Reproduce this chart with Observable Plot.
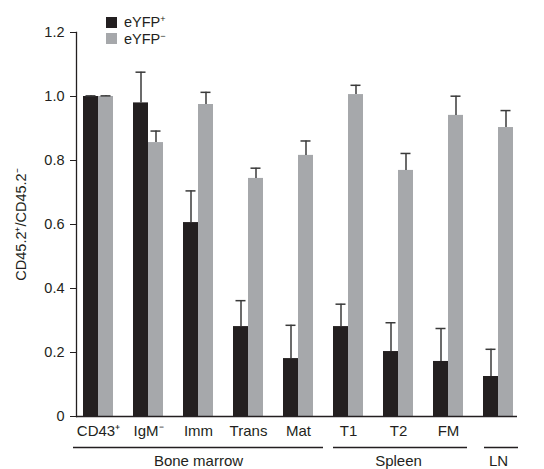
<!DOCTYPE html>
<html><head><meta charset="utf-8">
<script src="https://cdn.jsdelivr.net/npm/d3@7"></script>
<script src="https://cdn.jsdelivr.net/npm/@observablehq/plot@0.6"></script>
<style>
body{margin:0;background:#fff;font-family:"Liberation Sans",Arial,sans-serif}
#wrap{position:relative;width:544px;height:469px}
#legend{position:absolute;left:106px;top:14px;font-size:14.5px;color:#231f20;line-height:16.5px}
.item{display:flex;align-items:center;height:16.5px}
.sw{width:11px;height:11px;margin-right:7px}
sup{font-size:9px;vertical-align:5px;line-height:0}
</style></head><body><div id="wrap"><div id="legend"></div></div>
<script>
const categories = ["CD43\u207A", "IgM\u207B", "Imm", "Trans", "Mat", "T1", "T2", "FM", "LN"];
const xTickLabels = ["CD43\u207A", "IgM\u207B", "Imm", "Trans", "Mat", "T1", "T2", "FM", ""];
const seriesNames = ["eYFP+", "eYFP\u2212"];
const posValues = [1.0, 0.98, 0.606, 0.281, 0.181, 0.281, 0.203, 0.172, 0.125];
const posErrors = [0.002, 0.096, 0.099, 0.081, 0.104, 0.07, 0.09, 0.103, 0.085];
const negValues = [1.0, 0.856, 0.975, 0.744, 0.816, 1.006, 0.769, 0.941, 0.903];
const negErrors = [0.002, 0.036, 0.038, 0.032, 0.045, 0.029, 0.053, 0.06, 0.053];
const yTicks = [0, 0.2, 0.4, 0.6, 0.8, 1.0, 1.2];
const yTickLabels = ["0", "0.2", "0.4", "0.6", "0.8", "1.0", "1.2"];
const groupNames = ["Bone marrow", "Spleen", "LN"];
const groupFirst = ["CD43\u207A", "T1", "LN"];
const groupLast = ["Mat", "FM", "LN"];
const groupMid = ["Imm", "T2", "LN"];

const black = "#231f20", grey = "#a6a8ab", errC = "#3a3a3a";

const pos = categories.map((c, i) => ({cat: c, v: posValues[i], top: posValues[i] + posErrors[i]}));
const neg = categories.map((c, i) => ({cat: c, v: negValues[i], top: negValues[i] + negErrors[i]}));
const groups = groupNames.map((g, i) => ({name: g, first: groupFirst[i], last: groupLast[i], mid: groupMid[i]}));
const groupInsets = [[-10, -10], [0, -4], [1, -5]];

const plot = Plot.plot({
  width: 544,
  height: 469,
  marginLeft: 76,
  marginRight: 27,
  marginTop: 32,
  marginBottom: 53,
  style: {fontSize: "15px", fontFamily: "'Liberation Sans', Arial, sans-serif", color: black, background: "#fff"},
  x: {domain: categories, paddingInner: 0.4, paddingOuter: 0.11, align: 0.636},
  y: {domain: [0, 1.2]},
  marks: [
    Plot.barY(pos, {x: "cat", y: "v", fill: black, insetRight: 15}),
    Plot.barY(neg, {x: "cat", y: "v", fill: grey, insetLeft: 15}),
    Plot.ruleX(pos, {x: "cat", y1: "v", y2: "top", dx: -7.5, stroke: errC, strokeWidth: 1.5}),
    Plot.ruleX(neg, {x: "cat", y1: "v", y2: "top", dx: 7.5, stroke: errC, strokeWidth: 1.5}),
    Plot.tickY(pos, {x: "cat", y: "top", insetLeft: 2.5, insetRight: 17.5, stroke: errC, strokeWidth: 1.5}),
    Plot.tickY(neg, {x: "cat", y: "top", insetLeft: 17.5, insetRight: 2.5, stroke: errC, strokeWidth: 1.5}),
    Plot.ruleY([0], {stroke: black, strokeWidth: 1.5}),
    Plot.frame({anchor: "left", stroke: black, strokeWidth: 1.3}),
    Plot.axisY({ticks: yTicks, tickFormat: (d) => yTickLabels[yTicks.indexOf(d)], tickSize: 6, tickPadding: 6, stroke: black,
      label: "CD45.2\u207A/CD45.2\u207B", labelAnchor: "center", labelArrow: "none", labelOffset: 61, fontSize: 14.5}),
    Plot.axisX({tickSize: 0, tickPadding: 9, label: null, tickFormat: (d) => xTickLabels[categories.indexOf(d)]}),
    ...groups.map((g, i) => Plot.ruleY([g], {x1: "first", x2: "last", y: () => 0, dy: 31, stroke: black, strokeWidth: 1.3,
      insetLeft: groupInsets[i][0], insetRight: groupInsets[i][1]})),
    Plot.text(groups, {x: "mid", y: () => 0, text: "name", dy: 45, fill: black, lineAnchor: "middle"})
  ]
});
document.getElementById("wrap").appendChild(plot);

const legend = document.getElementById("legend");
const legendColors = [black, grey];
const legendSup = ["+", "\u2212"];
legendColors.forEach((c, i) => {
  const item = document.createElement("div");
  item.className = "item";
  item.innerHTML = `<div class="sw" style="background:${c}"></div><span>eYFP<sup>${legendSup[i]}</sup></span>`;
  legend.appendChild(item);
});
</script>
</body></html>
